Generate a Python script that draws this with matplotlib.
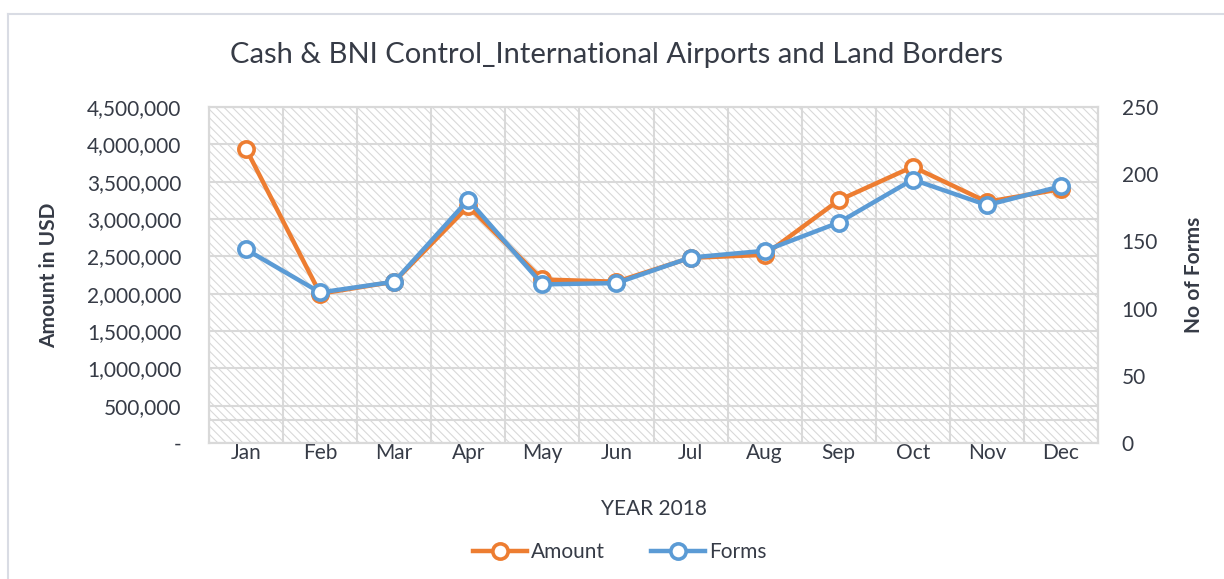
import matplotlib.pyplot as plt
import numpy as np
from matplotlib.lines import Line2D
from matplotlib.patches import Rectangle
from matplotlib.ticker import FuncFormatter, MultipleLocator, FixedLocator

plt.rcParams['font.family'] = ['Lato', 'DejaVu Sans']
plt.rcParams['hatch.linewidth'] = 0.8

months = ['Jan', 'Feb', 'Mar', 'Apr', 'May', 'Jun',
          'Jul', 'Aug', 'Sep', 'Oct', 'Nov', 'Dec']
amount = [3940000, 2000000, 2160000, 3170000, 2190000, 2160000,
          2480000, 2520000, 3250000, 3700000, 3230000, 3400000]
forms = [144, 112, 120, 181, 118, 119, 138, 143, 164, 196, 177, 191]

ORANGE = '#ED7D31'
BLUE = '#5B9BD5'
GRID = '#d9d9d9'
TEXT = '#363b46'
FS = 15

fig = plt.figure(figsize=(12.24, 5.79), dpi=100)
ax = fig.add_axes([209 / 1224, 1 - 443 / 579, 889 / 1224, 336 / 579])
ax2 = ax.twinx()

# hatched plot background
ax.set_facecolor('white')
bg = Rectangle((0, 0), 1, 1, transform=ax.transAxes, facecolor='white',
               edgecolor='#d9d9d9', linewidth=0, hatch='\\\\\\\\', zorder=0)
ax.add_patch(bg)

x = np.arange(len(months))

ax.plot(x, amount, color=ORANGE, lw=3.2, marker='o', ms=11,
        mfc='white', mec=ORANGE, mew=2.6, zorder=3, label='Amount')
ax2.plot(x, forms, color=BLUE, lw=3.2, marker='o', ms=11,
         mfc='white', mec=BLUE, mew=2.6, zorder=3, label='Forms')

ax.set_xlim(-0.5, len(months) - 0.5)
ax.set_ylim(0, 4500000)
ax2.set_ylim(0, 250)

ax.yaxis.set_major_locator(MultipleLocator(500000))
ax.yaxis.set_major_formatter(FuncFormatter(
    lambda v, p: '-' if v == 0 else f'{int(v):,}'))
ax2.yaxis.set_major_locator(MultipleLocator(50))

ax.set_xticks(x)
ax.set_xticklabels(months)
ax.xaxis.set_minor_locator(FixedLocator(np.arange(-0.5, len(months), 1)))

ax.grid(True, which='major', axis='y', color=GRID, lw=1.5, zorder=1)
ax.grid(True, which='minor', axis='x', color=GRID, lw=1.5, zorder=1)
ax.axhline(310000, color=GRID, lw=1.5, zorder=1)
ax.set_axisbelow(True)

for a in (ax, ax2):
    for s in a.spines.values():
        s.set_color(GRID)
        s.set_linewidth(1.5)
    a.tick_params(which='both', length=0, labelsize=FS, colors=TEXT)

ax.tick_params(axis='y', pad=20)
ax2.tick_params(axis='y', pad=17)
ax.tick_params(axis='x', pad=0)

ax.set_ylabel('Amount in USD', fontsize=FS, fontweight='bold', color=TEXT,
              labelpad=20)
ax2.set_ylabel('No of Forms', fontsize=FS, fontweight='bold', color=TEXT,
               rotation=90, labelpad=19)
ax.set_xlabel('YEAR 2018', fontsize=FS, color=TEXT, labelpad=26)

fig.text(617 / 1224, 1 - 55 / 579,
         'Cash & BNI Control_International Airports and Land Borders',
         ha='center', va='center', fontsize=21, color=TEXT)

handles = [Line2D([], [], color=ORANGE, lw=3.2, marker='o', ms=11,
                  mfc='white', mec=ORANGE, mew=2.6),
           Line2D([], [], color=BLUE, lw=3.2, marker='o', ms=11,
                  mfc='white', mec=BLUE, mew=2.6)]
fig.legend(handles, ['Amount', 'Forms'], loc='center',
           bbox_to_anchor=(620 / 1224, 1 - 552 / 579), ncol=2,
           frameon=False, fontsize=FS, handlelength=2.6,
           handletextpad=0.2, columnspacing=2.2, labelcolor=TEXT)

# outer chart frame (partly cropped in the original)
frame_col = '#d9dce4'
fig.add_artist(Line2D([8 / 1224, 8 / 1224], [0, 1 - 14 / 579],
                      transform=fig.transFigure, color=frame_col, lw=1.5))
fig.add_artist(Line2D([8 / 1224, 1], [1 - 14 / 579, 1 - 14 / 579],
                      transform=fig.transFigure, color=frame_col, lw=1.5))

fig.savefig('out.png', dpi=100)
